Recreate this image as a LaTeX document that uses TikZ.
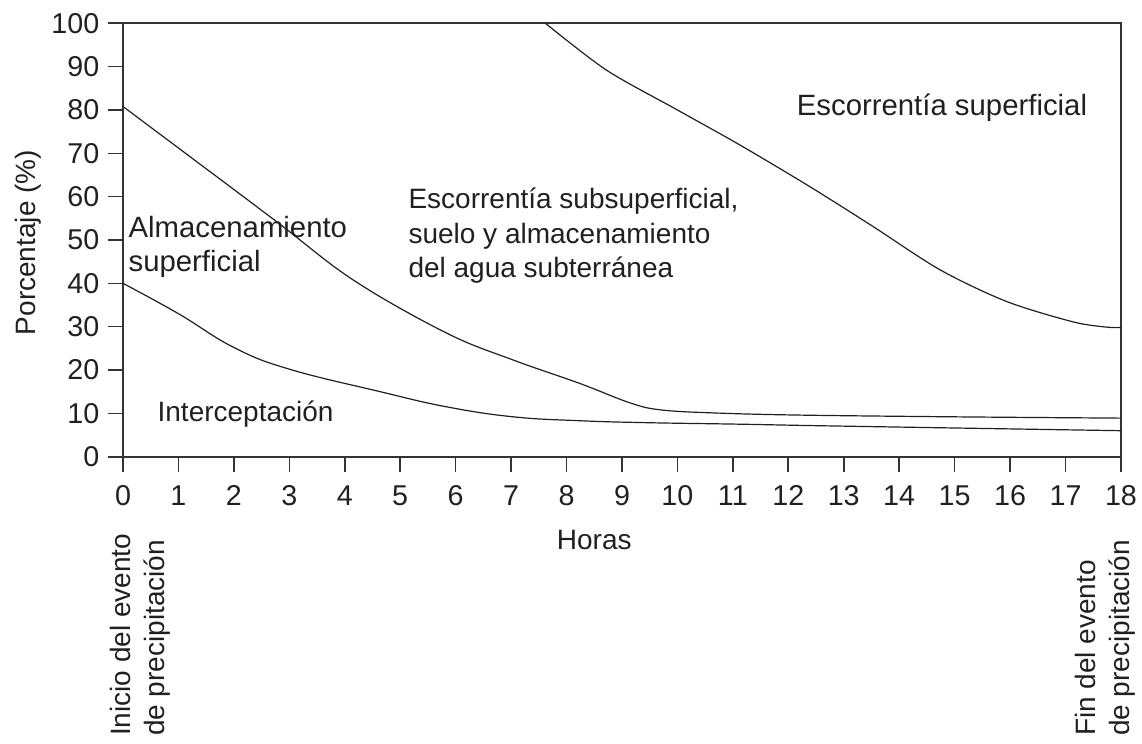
\documentclass[tikz,border=0pt]{standalone}
\usepackage{fontspec}
\setmainfont{Liberation Sans}
\usepackage{tikz}

\begin{document}
\begin{tikzpicture}
	[x=41.58pt,y=3.2505pt,line cap=round,
	%Styles
	axes/.style={axiscolor,line width=1.2pt,line cap=butt},
	curve/.style={inkcolor,line width=0.9pt},
	every node/.style={inkcolor,font=\fontsize{21}{25.7}\selectfont},
	big text/.style={font=\fontsize{22}{26}\selectfont},
	tick label/.style={inner sep=0pt,font=\fontsize{21.5}{25.7}\selectfont},
	region text/.style={inner sep=0pt,align=left},
	event text/.style={inner sep=0pt,align=left,rotate=90,anchor=north west}
	]
	
	%Colors
	\definecolor{inkcolor}{HTML}{231F20}
	\colorlet{axiscolor}{black!80}
	
	\useasboundingbox (-2.2186,-66.06) rectangle (18.38,105.376);
	
	%The frame and ticks
	\draw[axes] (0,0) rectangle (18,100);
	\foreach \v in {0,10,...,100}
	{
		\draw[axes] (-0.265,\v) -- (0,\v);
		\node[tick label,anchor=east] (yl\v) at (-0.424,\v) {\v};
	}
	\foreach \i in {0,...,18}
	{
		\draw[axes] (\i,0) -- (\i,-3.46);
		\node[tick label,anchor=base] (xl\i) at (\i,-11.15) {\i};
	}
	
	%The curves
	\draw[curve] plot[smooth,tension=0.7] coordinates {(0,40) (1,33.0) (2,25.2) (3,20.2) (4.64,15.0) (5.84,11.5) (7.04,9.2) (8.24,8.3) (9.45,7.85) (11.13,7.5) (13,7.05) (18,6)};
	\draw[curve] plot[smooth,tension=0.6] coordinates {(0,80.8) (2.65,55.4) (4.15,40.8) (5.84,28.5) (7.04,22.3) (8.24,16.9) (9.15,12.4) (9.7,10.8) (10.65,10.1) (12.21,9.6) (15,9.2) (18,8.9)};
	\draw[curve] plot[smooth,tension=0.5] coordinates {(7.62,100) (8.72,89.2) (10,80) (11.13,71.9) (12.39,62.3) (13.53,53.1) (14.74,43.1) (15.94,35.8) (17.14,31.1) (17.74,29.9) (18,29.8)};
	
	%Labels
	\node[region text,big text,anchor=base west] (surface) at (12.15,78.8) {Escorrentía superficial};
	\node[region text,anchor=north west] (subsurface) at (5.146,62.0) {Escorrentía subsuperficial,\\suelo y almacenamiento\\del agua subterránea};
	\node[region text,big text,anchor=north west] (storage) at (0.096,55.6) {Almacenamiento\\superficial};
	\node[region text,anchor=base west] (intercept) at (0.62,8.08) {Interceptación};
	\node[anchor=base,inner sep=0pt] (hours) at (8.5,-21.5) {Horas};
	\node[anchor=base,inner sep=0pt,rotate=90] (percent) at (-1.587,49.4) {Porcentaje (\%)};
	\node[event text] (start) at (-0.2345,-64.5) {Inicio del evento\\de precipitación};
	\node[event text] (finish) at (17.17,-64.5) {Fin del evento\\de precipitación};
\end{tikzpicture}
\end{document}
